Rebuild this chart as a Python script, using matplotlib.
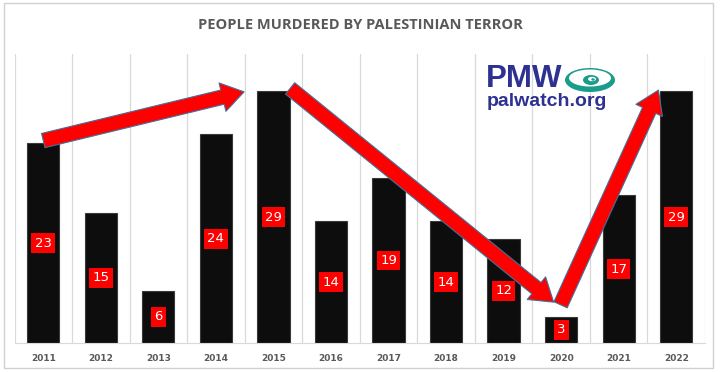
import matplotlib.pyplot as plt
import numpy as np
from matplotlib.patches import FancyArrowPatch, Ellipse, Rectangle

# data
years = ['2011', '2012', '2013', '2014', '2015', '2016',
         '2017', '2018', '2019', '2020', '2021', '2022']
murdered = [23, 15, 6, 24, 29, 14, 19, 14, 12, 3, 17, 29]

# trend arrows (start, end) in data units: (category index, value)
arrows = [((0.0, 23.3), (3.49, 28.9)),
          ((4.29, 29.3), (8.87, 4.7)),
          ((8.99, 4.4), (10.69, 29.1))]

fig = plt.figure(figsize=(7.2, 3.72), dpi=100)
ax = fig.add_axes([14.5 / 720, 29 / 372, (705 - 14.5) / 720, (343 - 54) / 372])

x = np.arange(len(years))
ax.bar(x, murdered, width=0.56, color='#0d0d0d', edgecolor='#3a3a3a', linewidth=0.8, zorder=2)

for xi, v in zip(x, murdered):
    ax.text(xi, v / 2, str(v), ha='center', va='center', color='white', fontsize=9.5,
            zorder=4, bbox=dict(boxstyle='square,pad=0.25', fc='#ff0000', ec='none'))

ax.set_xlim(-0.5, len(years) - 0.5)
ax.set_ylim(0, 33.26)
ax.set_yticks([])
ax.set_xticks(x)
ax.set_xticklabels(years, fontsize=6.5, fontweight='bold', color='#595959')
ax.tick_params(axis='x', length=0, pad=8)
ax.set_xticks(np.arange(-0.5, len(years)), minor=True)
ax.tick_params(axis='x', which='minor', length=0)
ax.grid(True, axis='x', which='minor', color='#d9d9d9', linewidth=0.9, zorder=0)
for s in ['left', 'right', 'top']:
    ax.spines[s].set_visible(False)
ax.spines['bottom'].set_color('#d9d9d9')

for (x0, y0), (x1, y1) in arrows:
    arr = FancyArrowPatch((x0, y0), (x1, y1),
                          arrowstyle='simple,head_length=16,head_width=21,tail_width=10.5',
                          mutation_scale=1, fc='#ff0000', ec='#41719c', lw=0.8,
                          shrinkA=0, shrinkB=0, zorder=5, clip_on=False)
    ax.add_patch(arr)

fig.text(0.5, 1 - 25 / 372, 'PEOPLE MURDERED BY PALESTINIAN TERROR', ha='center', va='center',
         fontsize=10.5, fontweight='bold', color='#595959', family='Open Sans')

# PMW logo
fig.text(486 / 720, 1 - 79 / 372, 'PMW', ha='left', va='center', fontsize=22.5,
         fontweight='bold', color='#2e3192', family='Liberation Sans')
fig.text(487 / 720, 1 - 101 / 372, 'palwatch.org', ha='left', va='center', fontsize=14,
         fontweight='bold', color='#2e3192', family='Liberation Sans')
eye_ax = fig.add_axes([563 / 720, 1 - 95 / 372, 54 / 720, 30 / 372])
eye_ax.set_xlim(0, 54)
eye_ax.set_ylim(0, 30)
eye_ax.axis('off')
eye_ax.add_patch(Ellipse((27, 15), 50, 24, fc='#1a9c8a', ec='none'))
eye_ax.add_patch(Ellipse((27, 17), 42, 17, fc='white', ec='none'))
eye_ax.add_patch(Ellipse((28, 15), 16, 10, fc='#1a9c8a', ec='none'))
eye_ax.add_patch(Ellipse((29, 16), 8, 4.5, fc='white', ec='none'))
eye_ax.add_patch(Ellipse((30, 15.5), 3.5, 2.5, fc='#1a9c8a', ec='none'))

# chart frame
fig.patches.append(Rectangle((4 / 720, 1 - 368 / 372), 709 / 720, 365 / 372,
                             transform=fig.transFigure, fill=False, ec='#d0d0d0', lw=1))

fig.savefig('out.png', dpi=100, facecolor='white')
